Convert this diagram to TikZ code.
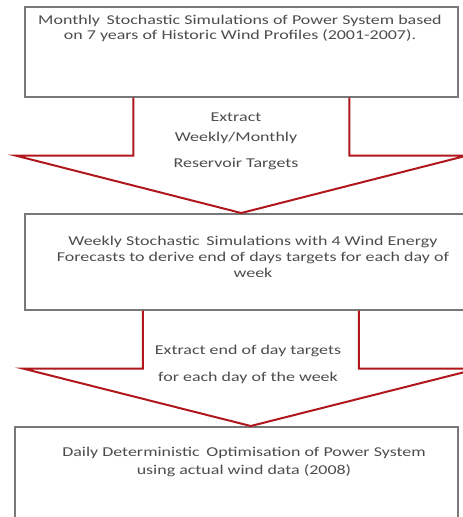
\documentclass[tikz,border=0pt]{standalone}
\usepackage{fontspec}
\setmainfont{Carlito}
\newfontfamily\widefont[FakeStretch=1.33]{Carlito}
\usepackage{tikz}
\usetikzlibrary{positioning, calc}
\definecolor{boxgray}{rgb}{0.47,0.47,0.47}
\definecolor{txtgray}{rgb}{0.3,0.3,0.3}
\definecolor{arrred}{rgb}{0.69,0.09,0.11}
\tikzstyle{blk}=[%
      rectangle, draw=boxgray, line width=1.5pt, fill=none, anchor=north west, inner sep=0pt
]
\tikzstyle{txt}=[%
      align=center, text=txtgray, inner sep=0pt,
      font=\widefont\fontsize{13.5}{16}\selectfont
]
\tikzstyle{flow}=[%
      draw=arrred, line width=2pt, line join=miter
]

\begin{document}
\begin{tikzpicture}[x=1pt, y=-1pt]
    \useasboundingbox (0,0) rectangle (463,517);
    \clip (0,0) rectangle (463,517);

    % the three stages
    \node[blk, minimum width=433pt, minimum height=90pt]  (monthly) at (24,6)  {};
    \node[blk, minimum width=460pt, minimum height=96pt]  (weekly)  at (24,213) {};
    \node[blk, minimum width=443pt, minimum height=110pt] (daily)   at (14,426) {};

    % block arrows between the stages
    \coordinate (a1) at (monthly.south);
    \coordinate (a2) at ($(weekly.south)+(-4,0)$);
    \draw[flow] ($(a1)+(-108,0)$) -- ++(0,58) -- ++(-118,0)
          -- (a1 |- weekly.north)
          -- ($(a1)+(226,58)$) -- ++(-118,0) -- ($(a1)+(108,0)$);
    \draw[flow] ($(a2)+(-108,0)$) -- ++(0,58) -- ++(-120,0)
          -- (a2 |- daily.north)
          -- ($(a2)+(228,58)$) -- ++(-120,0) -- ($(a2)+(108,0)$);

    % texts
    \node[txt] (monthlytxt) at (240,28.5)
        {Monthly\enspace Stochastic Simulations of Power System based\\[-1pt]
         on 7 years of Historic Wind Profiles (2001-2007).};
    \node[txt] (extract1) at (236,141.5)
        {Extract\\[4.5pt] Weekly/Monthly\\[10pt] Reservoir Targets};
    \node[txt] (weeklytxt) at (253,256.5)
        {Weekly Stochastic\enspace Simulations with 4 Wind Energy\\
         Forecasts to derive end of days targets for each day of\\
         week};
    \node[txt] (extract2) at (248,364)
        {Extract end of day targets\\[11pt] for each day of the week};
    \node[txt] (dailytxt) at (244,462)
        {Daily Deterministic\enspace Optimisation of Power System\\[2pt]
         using actual wind data (2008)};
\end{tikzpicture}
\end{document}
